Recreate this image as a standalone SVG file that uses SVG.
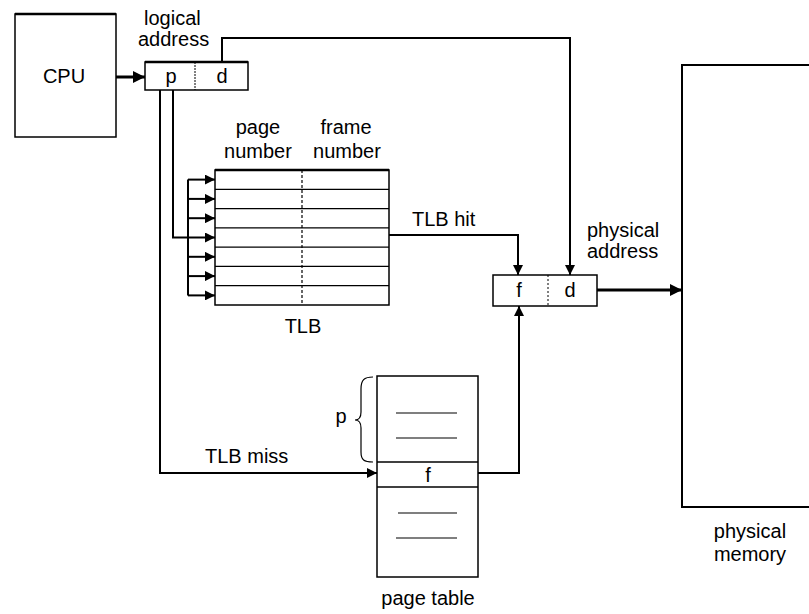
<svg xmlns="http://www.w3.org/2000/svg" width="809" height="614" viewBox="0 0 809 614">
<defs>
<style>
text{font-family:"Liberation Sans",Arial,sans-serif;font-size:20px;fill:#000}
.box{fill:#fff;stroke:#000;stroke-width:1.5}
.thin{fill:none;stroke:#000;stroke-width:1.2}
.conn{fill:none;stroke:#000;stroke-width:2}
.thick{fill:none;stroke:#000;stroke-width:3}
.mid{text-anchor:middle}
</style>
<marker id="ah" viewBox="0 0 10 10" refX="10" refY="5" markerWidth="4" markerHeight="4" markerUnits="strokeWidth" orient="auto">
<path d="M0,0 L10,5 L0,10 z" fill="#000"/>
</marker>
<marker id="ahs" viewBox="0 0 10 10" refX="10" refY="5" markerWidth="5" markerHeight="5" markerUnits="strokeWidth" orient="auto">
<path d="M0,0 L10,5 L0,10 z" fill="#000"/>
</marker>
</defs>
<rect width="809" height="614" fill="#fff"/>

<g id="cpu">
<rect class="box" x="15" y="14" width="101" height="123"/>
<line x1="15" y1="14" x2="116" y2="14" stroke="#000" stroke-width="2.5"/>
<text class="mid" x="64" y="83" font-size="21">CPU</text>
</g>

<g id="logical-address">
<text x="144" y="25">logical</text>
<text x="138" y="46">address</text>
<rect class="box" x="145" y="62" width="103" height="28"/>
<line x1="145" y1="62" x2="248" y2="62" stroke="#000" stroke-width="2.5"/>
<line x1="195" y1="62" x2="195" y2="90" stroke="#000" stroke-width="1" stroke-dasharray="2,1"/>
<text class="mid" x="171" y="83">p</text>
<text class="mid" x="222" y="83">d</text>
</g>

<g id="tlb">
<text class="mid" x="258" y="134">page</text>
<text class="mid" x="258" y="158">number</text>
<text class="mid" x="346" y="134">frame</text>
<text class="mid" x="347" y="158">number</text>
<rect class="box" x="215" y="170" width="174" height="135"/>
<line x1="215" y1="170" x2="389" y2="170" stroke="#000" stroke-width="2.5"/>
<g class="thin">
<line x1="215" y1="189.3" x2="389" y2="189.3"/>
<line x1="215" y1="208.6" x2="389" y2="208.6"/>
<line x1="215" y1="227.9" x2="389" y2="227.9"/>
<line x1="215" y1="247.1" x2="389" y2="247.1"/>
<line x1="215" y1="266.4" x2="389" y2="266.4"/>
<line x1="215" y1="285.7" x2="389" y2="285.7"/>
<line x1="302" y1="170" x2="302" y2="305" stroke-dasharray="3,2"/>
</g>
<text class="mid" x="303" y="333">TLB</text>
</g>

<g id="physical-address">
<text x="587" y="237">physical</text>
<text x="587" y="258">address</text>
<rect class="box" x="493" y="275" width="104" height="31"/>
<line x1="548" y1="275" x2="548" y2="306" stroke="#000" stroke-width="1" stroke-dasharray="2,2"/>
<text class="mid" x="519" y="297" font-size="18">f</text>
<text class="mid" x="570" y="297" font-size="18">d</text>
</g>

<g id="page-table">
<rect class="box" x="377" y="376" width="101" height="201"/>
<line x1="377" y1="462" x2="478" y2="462" stroke="#000" stroke-width="1.5"/>
<line x1="377" y1="487" x2="478" y2="487" stroke="#000" stroke-width="1.5"/>
<g class="thin">
<line x1="396" y1="413" x2="457" y2="413"/>
<line x1="396" y1="438" x2="457" y2="438"/>
<line x1="398" y1="513" x2="457" y2="513"/>
<line x1="396" y1="538" x2="457" y2="538"/>
</g>
<text class="mid" x="428" y="482" font-size="17">f</text>
<path class="thin" d="M373,377 C364,377 361,380 361,389 L361,412 Q361,420 355,420 Q361,420 361,428 L361,452 C361,460 364,462 373,462"/>
<text class="mid" x="341" y="423">p</text>
<text class="mid" x="428" y="605">page table</text>
</g>

<g id="physical-memory">
<path d="M809,65 L682,65 L682,507 L809,507" fill="#fff" stroke="#000" stroke-width="2"/>
<text class="mid" x="750" y="538">physical</text>
<text class="mid" x="750" y="561">memory</text>
</g>

<g id="labels">
<text x="412" y="226">TLB hit</text>
<text x="205" y="463">TLB miss</text>
</g>

<g id="connectors">
<line class="thick" x1="116" y1="77" x2="145" y2="77" marker-end="url(#ah)"/>
<polyline class="conn" points="222,62 222,38 570,38 570,275" marker-end="url(#ahs)"/>
<polyline class="conn" points="160,90 160,473 377,473" marker-end="url(#ahs)"/>
<polyline class="conn" points="173,90 173,237.5 188,237.5"/>
<line class="conn" x1="188" y1="179.6" x2="188" y2="295.4" stroke-width="2.5"/>
<line class="conn" x1="188" y1="179.6" x2="215" y2="179.6" marker-end="url(#ahs)"/>
<line class="conn" x1="188" y1="198.9" x2="215" y2="198.9" marker-end="url(#ahs)"/>
<line class="conn" x1="188" y1="218.2" x2="215" y2="218.2" marker-end="url(#ahs)"/>
<line class="conn" x1="188" y1="237.5" x2="215" y2="237.5" marker-end="url(#ahs)"/>
<line class="conn" x1="188" y1="256.8" x2="215" y2="256.8" marker-end="url(#ahs)"/>
<line class="conn" x1="188" y1="276.1" x2="215" y2="276.1" marker-end="url(#ahs)"/>
<line class="conn" x1="188" y1="295.4" x2="215" y2="295.4" marker-end="url(#ahs)"/>
<polyline class="conn" points="389,235 518,235 518,275" marker-end="url(#ahs)"/>
<polyline class="conn" points="478,473 519,473 519,306" marker-end="url(#ahs)"/>
<line class="thick" x1="597" y1="290" x2="682" y2="290" marker-end="url(#ah)"/>
</g>
</svg>
